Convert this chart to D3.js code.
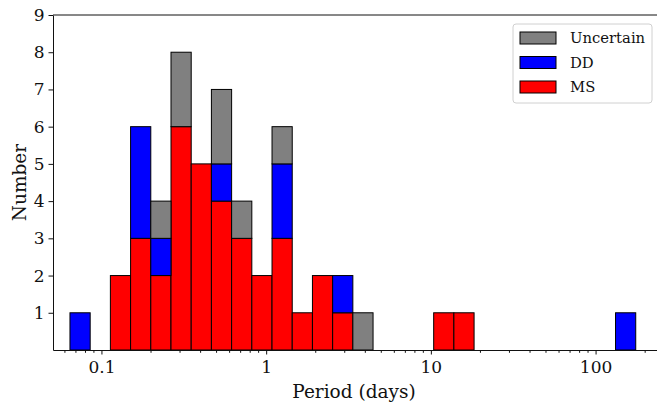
<!DOCTYPE html>
<html>
<head>
<meta charset="utf-8">
<script src="https://cdn.jsdelivr.net/npm/d3@7"></script>
<style>
  body { margin: 0; background: #fff; }
  svg { display: block; }
  text { font-family: "DejaVu Serif", "Liberation Serif", serif; fill: #111; }
</style>
</head>
<body>
<div id="chart"></div>
<script>
// histogram bins: 28 equal-width bins in log10(period)
const binLo = 0.0644;
const binHi = 175.3;
const nBins = 28;

const series = ["MS", "DD", "Uncertain"];
const colors = {MS: "#ff0000", DD: "#0000ff", Uncertain: "#808080"};

const msCounts  = [0,0,2,3,2,6,5,4,3,2,3,1,2,1,0,0,0,0,1,1,0,0,0,0,0,0,0,0];
const ddCounts  = [1,0,0,3,1,0,0,1,0,0,2,0,0,1,0,0,0,0,0,0,0,0,0,0,0,0,0,1];
const uncCounts = [0,0,0,0,1,2,0,2,1,0,1,0,0,0,1,0,0,0,0,0,0,0,0,0,0,0,0,0];

const xTicks = [0.1, 1, 10, 100];
const xTickLabels = ["0.1", "1", "10", "100"];
const yTicks = [1, 2, 3, 4, 5, 6, 7, 8, 9];
const legendOrder = ["Uncertain", "DD", "MS"];

const W = 657, H = 405;
const margin = {top: 15, right: 0, bottom: 55, left: 53};

const svg = d3.select("#chart").append("svg")
    .attr("width", W)
    .attr("height", H);

const x = d3.scaleLog()
    .domain([0.0508, 236])
    .range([margin.left, W]);

const y = d3.scaleLinear()
    .domain([0, 9])
    .range([H - margin.bottom, margin.top]);

const logStep = (Math.log10(binHi) - Math.log10(binLo)) / nBins;
const bins = d3.range(nBins).map(i => ({
    lo: Math.pow(10, Math.log10(binLo) + i * logStep),
    hi: Math.pow(10, Math.log10(binLo) + (i + 1) * logStep),
    MS: msCounts[i],
    DD: ddCounts[i],
    Uncertain: uncCounts[i]
}));

const stacked = d3.stack().keys(series)(bins);

svg.append("g")
    .selectAll("g")
    .data(stacked)
    .join("g")
    .attr("fill", d => colors[d.key])
    .selectAll("rect")
    .data(d => d.filter(p => p[1] > p[0]))
    .join("rect")
    .attr("x", d => x(d.data.lo))
    .attr("width", d => x(d.data.hi) - x(d.data.lo))
    .attr("y", d => y(d[1]))
    .attr("height", d => y(d[0]) - y(d[1]))
    .attr("stroke", "#000")
    .attr("stroke-width", 1);

// x axis with log minor ticks
const minorTicks = [];
[0.01, 0.1, 1, 10, 100].forEach(dec => {
    for (let k = 2; k <= 9; k++) {
        const v = dec * k;
        if (v > x.domain()[0] && v < x.domain()[1]) minorTicks.push(v);
    }
});

const xAxis = svg.append("g")
    .attr("transform", `translate(0,${y(0)})`);
xAxis.call(d3.axisBottom(x)
    .tickValues(xTicks)
    .tickFormat((d, i) => xTickLabels[i])
    .tickSize(4.5)
    .tickPadding(6)
    .tickSizeOuter(0));
xAxis.append("g").selectAll("line")
    .data(minorTicks)
    .join("line")
    .attr("x1", d => x(d)).attr("x2", d => x(d))
    .attr("y1", 0).attr("y2", 2.8)
    .attr("stroke", "#111");
xAxis.selectAll(".tick text")
    .attr("font-size", 17)
    .attr("font-family", "DejaVu Serif");

const yAxis = svg.append("g")
    .attr("transform", `translate(${margin.left},0)`);
yAxis.call(d3.axisLeft(y)
    .tickValues(yTicks)
    .tickSize(4.5)
    .tickPadding(4)
    .tickSizeOuter(0));
yAxis.selectAll(".tick text")
    .attr("font-size", 17)
    .attr("font-family", "DejaVu Serif");

svg.selectAll(".domain").attr("stroke", "#111");
svg.selectAll(".tick line").attr("stroke", "#111");

// top spine
svg.append("line")
    .attr("x1", margin.left).attr("x2", W)
    .attr("y1", y(9)).attr("y2", y(9))
    .attr("stroke", "#111");

svg.append("text")
    .attr("x", 354)
    .attr("y", 398)
    .attr("text-anchor", "middle")
    .attr("font-size", 18.5)
    .text("Period (days)");

svg.append("text")
    .attr("transform", `translate(26,${(y(0) + y(9)) / 2}) rotate(-90)`)
    .attr("text-anchor", "middle")
    .attr("font-size", 18.5)
    .text("Number");

// legend
const legend = svg.append("g").attr("transform", "translate(513,24)");
legend.append("rect")
    .attr("width", 139).attr("height", 79)
    .attr("rx", 3)
    .attr("fill", "#fff")
    .attr("fill-opacity", 0.8)
    .attr("stroke", "#d0d0d0");
legendOrder.forEach((key, i) => {
    const row = legend.append("g").attr("transform", `translate(0,${14 + i * 24.5})`);
    row.append("rect")
        .attr("x", 7).attr("y", -6)
        .attr("width", 36).attr("height", 12)
        .attr("fill", colors[key])
        .attr("stroke", "#000");
    row.append("text")
        .attr("x", 57).attr("y", 5)
        .attr("font-size", 14.8)
        .text(key);
});
</script>
</body>
</html>
